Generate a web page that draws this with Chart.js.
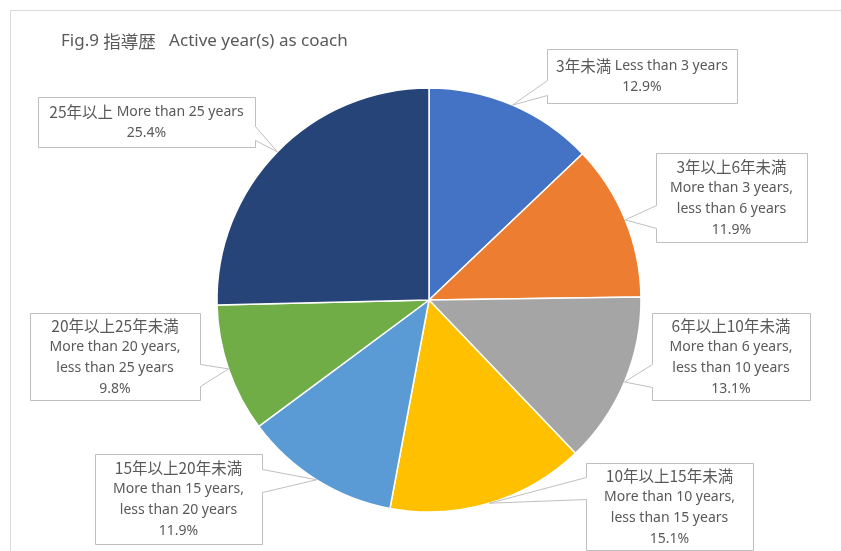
<!DOCTYPE html>
<html>
<head>
<meta charset="utf-8">
<script src="https://cdn.jsdelivr.net/npm/chart.js@4.4.1/dist/chart.umd.min.js"></script>
<style>
  html, body { margin: 0; padding: 0; background: #fff; overflow: hidden; }
  #wrap { position: relative; width: 841px; height: 551px; }
  #frame { position: absolute; left: 10px; top: 10px; width: 900px; height: 600px; border: 1px solid #d9d9d9; }
  #chart { position: absolute; left: 0; top: 0; }
</style>
</head>
<body>
<div id="wrap">
  <div id="frame"></div>
  <canvas id="chart" width="841" height="551"></canvas>
</div>
<script>
// --- Datos ---
const titleParts = [['Fig.9 ', 'tEn'], ['指導歴', 'tJa'], ['\u00a0\u00a0\u00a0Active year(s) as coach', 'tEn']];
const categoriesJa = ['3年未満', '3年以上6年未満', '6年以上10年未満', '10年以上15年未満', '15年以上20年未満', '20年以上25年未満', '25年以上'];
const categoriesEn = [['Less than 3 years'], ['More than 3 years,', 'less than 6 years'], ['More than 6 years,', 'less than 10 years'],
  ['More than 10 years,', 'less than 15 years'], ['More than 15 years,', 'less than 20 years'], ['More than 20 years,', 'less than 25 years'], ['More than 25 years']];
const shares = [12.9, 11.9, 13.1, 15.1, 11.9, 9.8, 25.4];
const sliceColors = ['#4472C4', '#ED7D31', '#A5A5A5', '#FFC000', '#5B9BD5', '#70AD47', '#264478'];

// --- Posición de las etiquetas (cajas tipo "callout") ---
// x, y, w, h de la caja; side = lado donde sale la flecha; b1/b2 = base de la flecha
const calloutBoxes = [
  { x: 547, y: 49, w: 190, h: 54, side: 'left', b1: 80, b2: 95 },
  { x: 656, y: 153, w: 151, h: 89, side: 'left', b1: 205, b2: 228 },
  { x: 652, y: 313, w: 158, h: 87, side: 'left', b1: 364, b2: 387 },
  { x: 586, y: 463, w: 167, h: 87, side: 'left', b1: 477, b2: 499 },
  { x: 95, y: 454, w: 167, h: 90, side: 'right', b1: 469, b2: 492 },
  { x: 30, y: 313, w: 170, h: 87, side: 'right', b1: 364, b2: 386 },
  { x: 38, y: 97, w: 217, h: 50, side: 'right', b1: 126, b2: 140 }
];

const textColor = '#595959';
const fonts = {
  en: '14px "Noto Sans", "DejaVu Sans", sans-serif',
  ja: '15.5px "Noto Sans CJK JP", sans-serif',
  tEn: '17px "Noto Sans", "DejaVu Sans", sans-serif',
  tJa: '17.5px "Noto Sans CJK JP", sans-serif'
};

// Cada línea es una lista de segmentos [texto, tipo de fuente]
function labelLines(i) {
  const pct = [[shares[i].toFixed(1) + '%', 'en']];
  const en = categoriesEn[i];
  if (en.length === 1) return [[[categoriesJa[i], 'ja'], [' ' + en[0], 'en']], pct];
  return [[[categoriesJa[i], 'ja']]].concat(en.map(t => [[t, 'en']]), [pct]);
}

function drawSegments(ctx, segs, x, y, align) {
  const widths = segs.map(s => { ctx.font = fonts[s[1]]; return ctx.measureText(s[0]).width; });
  const total = widths.reduce((a, b) => a + b, 0);
  let cur = align === 'center' ? x - total / 2 : x;
  ctx.textAlign = 'left';
  segs.forEach((s, k) => {
    ctx.font = fonts[s[1]];
    ctx.fillText(s[0], cur, y);
    cur += widths[k];
  });
}

const calloutPlugin = {
  id: 'callouts',
  afterDraw(chart) {
    const ctx = chart.ctx;
    const meta = chart.getDatasetMeta(0);
    ctx.save();
    ctx.fillStyle = textColor;
    ctx.textBaseline = 'middle';
    drawSegments(ctx, titleParts, 61, 41, 'left');

    meta.data.forEach((arc, i) => {
      const p = arc.getProps(['x', 'y', 'startAngle', 'endAngle', 'outerRadius'], true);
      const mid = (p.startAngle + p.endAngle) / 2;
      const tx = p.x + Math.cos(mid) * p.outerRadius;
      const ty = p.y + Math.sin(mid) * p.outerRadius;
      const b = calloutBoxes[i];
      const x0 = b.x + 0.5, y0 = b.y + 0.5, x1 = b.x + b.w + 0.5, y1 = b.y + b.h + 0.5;

      ctx.beginPath();
      if (b.side === 'left') {
        ctx.moveTo(x0, y0);
        ctx.lineTo(x1, y0);
        ctx.lineTo(x1, y1);
        ctx.lineTo(x0, y1);
        ctx.lineTo(x0, b.b2 + 0.5);
        ctx.lineTo(tx, ty);
        ctx.lineTo(x0, b.b1 + 0.5);
      } else {
        ctx.moveTo(x0, y0);
        ctx.lineTo(x1, y0);
        ctx.lineTo(x1, b.b1 + 0.5);
        ctx.lineTo(tx, ty);
        ctx.lineTo(x1, b.b2 + 0.5);
        ctx.lineTo(x1, y1);
        ctx.lineTo(x0, y1);
      }
      ctx.closePath();
      ctx.fillStyle = '#ffffff';
      ctx.fill();
      ctx.strokeStyle = '#bfbfbf';
      ctx.lineWidth = 1;
      ctx.stroke();

      const lines = labelLines(i);
      const lh = 21;
      const cx = b.x + b.w / 2;
      const cy = b.y + b.h / 2 + 1;
      ctx.fillStyle = textColor;
      ctx.textBaseline = 'middle';
      lines.forEach((segs, k) => {
        drawSegments(ctx, segs, cx, cy + (k - (lines.length - 1) / 2) * lh, 'center');
      });
    });
    ctx.restore();
  }
};

new Chart(document.getElementById('chart'), {
  type: 'pie',
  data: {
    labels: categoriesJa,
    datasets: [{
      data: shares,
      backgroundColor: sliceColors,
      borderColor: '#ffffff',
      borderWidth: 1.5,
      radius: 212
    }]
  },
  options: {
    responsive: false,
    animation: false,
    devicePixelRatio: 1,
    layout: { padding: { left: 117, right: 100, top: 88, bottom: 39 } },
    plugins: {
      legend: { display: false },
      tooltip: { enabled: false }
    }
  },
  plugins: [calloutPlugin]
});
</script>
</body>
</html>
